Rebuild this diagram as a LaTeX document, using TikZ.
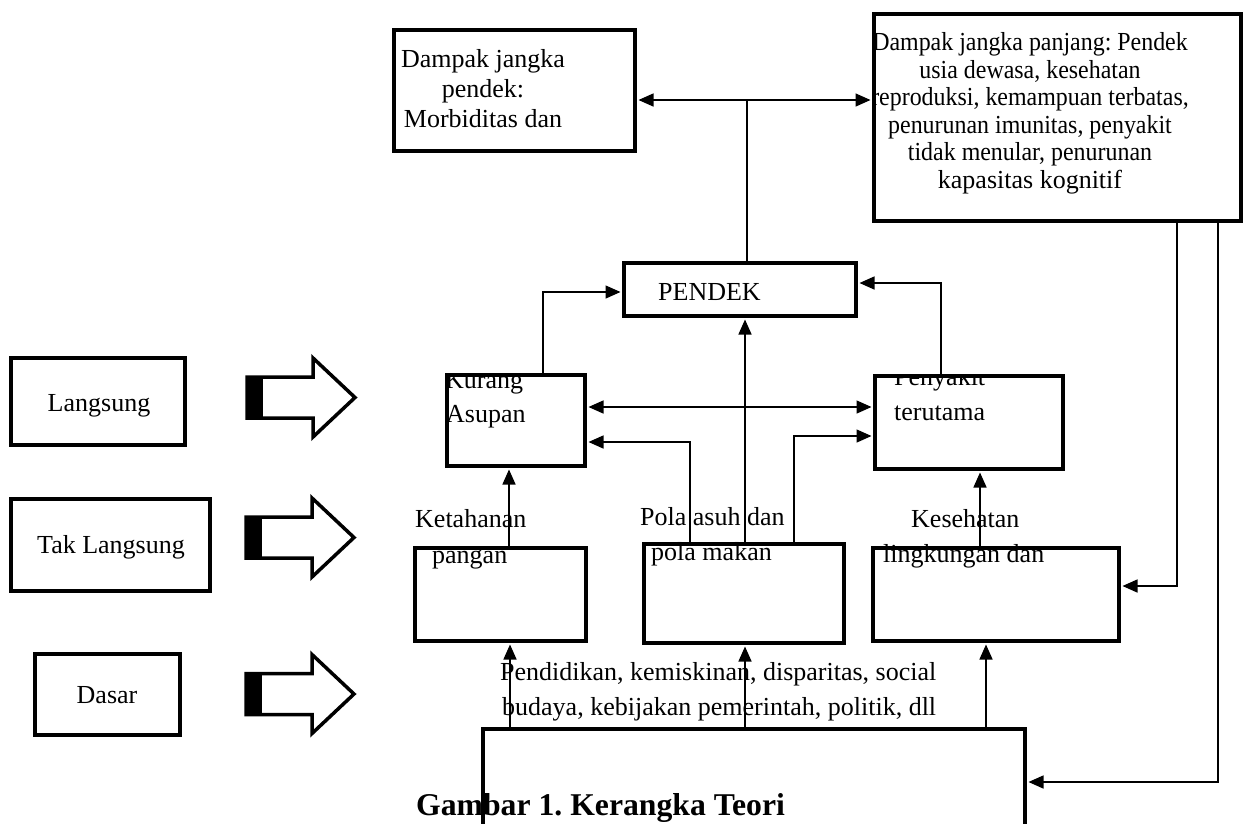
\documentclass[tikz,border=0pt]{standalone}
\usepackage{fontspec}
\setmainfont{Liberation Serif}
\newfontfamily\narrowfont[FakeStretch=0.92]{Liberation Serif}
\usetikzlibrary{arrows.meta}
\tikzset{
  box/.style={draw, line width=4pt, inner sep=0pt},
  conn/.style={line width=1.5pt},
  arr/.style={conn, -{Triangle[length=15pt,width=13pt]}, shorten >=1.5pt},
  dbl/.style={conn, {Triangle[length=15pt,width=13pt]}-{Triangle[length=15pt,width=13pt]}, shorten >=1.5pt, shorten <=1.5pt},
  txt/.style={inner sep=0pt, anchor=base west, font=\fontsize{26}{30}\selectfont},
  txtc/.style={inner sep=0pt, anchor=base, font=\fontsize{26}{30}\selectfont},
  txts/.style={inner sep=0pt, anchor=base, font=\narrowfont\fontsize{26}{28}\selectfont},
  blockarr/.pic={
    \draw[line width=3.5pt, line join=miter] (0,-20.5) -- (66,-20.5) -- (66,-39.5) -- (108,0) -- (66,39.5) -- (66,20.5) -- (0,20.5) -- cycle;
    \fill (-1.5,-22) rectangle (16,22);
  }
}
\frenchspacing
\begin{document}
\frenchspacing
\begin{tikzpicture}[x=1pt,y=-1pt]
\useasboundingbox (0,0) rectangle (1248,823);
\begin{scope}
\clip (0,0) rectangle (1248,823);

% ---------- free texts (drawn under the box borders)
\node[txtc] (dpA) at (483,67) {Dampak jangka};
\node[txtc] (dpB) at (483,97) {pendek:};
\node[txtc] (dpC) at (483,127) {Morbiditas dan};
\node[txt] (tpendek) at (658,300) {PENDEK};
\node[txt] (tket1) at (415,527) {Ketahanan};
\node[txt] (tket2) at (432,563) {pangan};
\node[txt] (tpol1) at (640,525) {Pola asuh dan};
\node[txt] (tpol2) at (651,560) {pola makan};
\node[txt] (tkes1) at (911,527) {Kesehatan};
\node[txt] (tkes2) at (883,562) {lingkungan dan};
\node[txt] (tdas1) at (500,680) {Pendidikan, kemiskinan, disparitas, social};
\node[txt] (tdas2) at (502,715) {budaya, kebijakan pemerintah, politik, dll};
\node[txtc] (tlang) at (99,411) {Langsung};
\node[txtc] (ttak) at (111,553) {Tak Langsung};
\node[txtc] (tdasar) at (107,703) {Dasar};
\node[inner sep=0pt, anchor=base west, font=\fontsize{31.7}{34}\selectfont\bfseries] (caption) at (416,815) {Gambar 1. Kerangka Teori};

% ---------- boxes
\node[box, minimum width=241pt, minimum height=121pt] (dpendek) at (514.5,90.5) {};
\node[box, minimum width=367pt, minimum height=207pt] (dpanjang) at (1057.5,117.5) {};
\node[box, minimum width=232pt, minimum height=53pt] (pendek) at (740,289.5) {};
\node[box, minimum width=138pt, minimum height=91pt] (kurang) at (516,420.5) {};
\node[box, minimum width=188pt, minimum height=93pt] (penyakit) at (969,422.5) {};
\node[box, minimum width=171pt, minimum height=93pt] (ketahanan) at (500.5,594.5) {};
\node[box, minimum width=200pt, minimum height=99pt] (pola) at (744,593.5) {};
\node[box, minimum width=246pt, minimum height=93pt] (kesehatan) at (996,594.5) {};
\node[box, minimum width=542pt, minimum height=119pt] (dasarbox) at (754,788.5) {};
\node[box, minimum width=174pt, minimum height=87pt] (langsung) at (98,401.5) {};
\node[box, minimum width=199pt, minimum height=92pt] (taklangsung) at (110.5,545) {};
\node[box, minimum width=145pt, minimum height=81pt] (dasar) at (107.5,694.5) {};

% ---------- texts clipped by their boxes
\begin{scope}
\clip (dpanjang.north west) rectangle (dpanjang.south east);
\node[txts] (pjA) at (1030,50) {Dampak jangka panjang: Pendek};
\node[txts] (pjB) at (1030,78) {usia dewasa, kesehatan};
\node[txts] (pjC) at (1030,105) {reproduksi, kemampuan terbatas,};
\node[txts] (pjD) at (1030,133) {penurunan imunitas, penyakit};
\node[txts] (pjE) at (1030,160) {tidak menular, penurunan};
\node[txtc] (pjF) at (1030,188) {kapasitas kognitif};
\end{scope}
\begin{scope}
\clip (kurang.north west) rectangle (kurang.south east);
\node[txt] (tkur1) at (445,388) {Kurang};
\node[txt] (tkur2) at (446,422) {Asupan};
\end{scope}
\begin{scope}
\clip (penyakit.north west) rectangle (penyakit.south east);
\node[txt] (tpen1) at (894,385) {Penyakit};
\node[txt] (tpen2) at (894,420) {terutama};
\end{scope}

% ---------- block arrows
\pic at (247,397.5) {blockarr};
\pic at (246,537.5) {blockarr};
\pic at (246,694) {blockarr};

% ---------- connectors
\coordinate (jt) at (747,100);
\draw[conn] (pendek.north -| jt) -- (jt);
\draw[arr] (jt) -- (dpendek.east |- jt);
\draw[arr] (jt) -- (dpanjang.west |- jt);

\coordinate (b1) at (543,292);
\draw[arr] (kurang.north -| b1) |- (pendek.west |- b1);
\coordinate (b2) at (941,283);
\draw[arr] (penyakit.north -| b2) |- (pendek.east |- b2);
\coordinate (xp) at (745,0);
\draw[arr] (pola.north -| xp) -- (pendek.south -| xp);

\coordinate (y1) at (0,407);
\draw[dbl] (kurang.east |- y1) -- (penyakit.west |- y1);
\coordinate (b4) at (690,442);
\draw[arr] (pola.north -| b4) |- (kurang.east |- b4);
\coordinate (b5) at (794,436);
\draw[arr] (pola.north -| b5) |- (penyakit.west |- b5);

\coordinate (xk) at (509,0);
\draw[arr] (ketahanan.north -| xk) -- (kurang.south -| xk);
\coordinate (xs) at (980,0);
\draw[arr] (kesehatan.north -| xs) -- (penyakit.south -| xs);

\coordinate (b6) at (1177,586);
\draw[arr] (dpanjang.south -| b6) |- (kesehatan.east |- b6);
\coordinate (b7) at (1218,782);
\draw[arr] (dpanjang.south -| b7) |- (dasarbox.east |- b7);

\coordinate (xb1) at (510,0);
\coordinate (xb3) at (986,0);
\draw[arr] (dasarbox.north -| xb1) -- (ketahanan.south -| xb1);
\draw[arr] (dasarbox.north -| xp) -- (pola.south -| xp);
\draw[arr] (dasarbox.north -| xb3) -- (kesehatan.south -| xb3);
\end{scope}
\end{tikzpicture}
\end{document}
